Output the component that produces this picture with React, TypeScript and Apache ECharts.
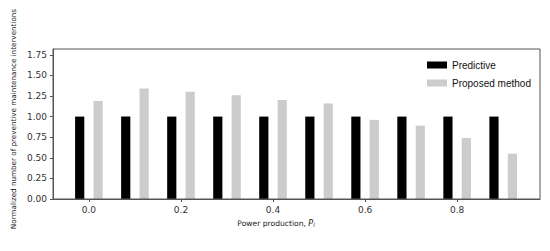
import React, { useEffect, useRef } from "react";
import * as echarts from "echarts";

const powerLevels = [0.0, 0.1, 0.2, 0.3, 0.4, 0.5, 0.6, 0.7, 0.8, 0.9];
const predictive = [1.0, 1.0, 1.0, 1.0, 1.0, 1.0, 1.0, 1.0, 1.0, 1.0];
const proposed = [1.19, 1.34, 1.3, 1.26, 1.2, 1.16, 0.96, 0.89, 0.74, 0.55];
const xTicks = [0.0, 0.2, 0.4, 0.6, 0.8];
const yTicks = [0, 0.25, 0.5, 0.75, 1.0, 1.25, 1.5, 1.75];

const BAR_OFFSET = 0.02;
const BAR_WIDTH = 0.02;

function makeRender() {
  return (params: any, api: any) => {
    const x = api.value(0);
    const y = api.value(1);
    const p1 = api.coord([x - BAR_WIDTH / 2, y]);
    const p2 = api.coord([x + BAR_WIDTH / 2, 0]);
    return {
      type: "rect",
      shape: { x: p1[0], y: p1[1], width: p2[0] - p1[0], height: p2[1] - p1[1] },
      style: { fill: api.visual("color") },
    };
  };
}

export default function App() {
  const ref = useRef<HTMLDivElement>(null);
  useEffect(() => {
    if (!ref.current) return;
    const chart = echarts.init(ref.current, undefined, { renderer: "svg" });
    const axisColor = "#555";
    const tickFont = { fontFamily: "DejaVu Sans", fontSize: 9, color: "#333" };
    chart.setOption({
      animation: false,
      grid: { left: 53, top: 49, right: 10, bottom: 52 },
      xAxis: {
        type: "value",
        min: -0.078,
        max: 0.98,
        splitLine: { show: false },
        axisLine: { show: true, onZero: false, lineStyle: { color: axisColor, width: 1 } },
        axisTick: { show: true, customValues: xTicks, length: 3, lineStyle: { color: axisColor } },
        axisLabel: {
          customValues: xTicks,
          formatter: (v: number) => v.toFixed(1),
          margin: 6,
          ...tickFont,
        },
      },
      yAxis: {
        type: "value",
        min: 0,
        max: 1.82,
        splitLine: { show: false },
        axisLine: { show: true, onZero: false, lineStyle: { color: axisColor, width: 1 } },
        axisTick: { show: true, customValues: yTicks, length: 3, lineStyle: { color: axisColor } },
        axisLabel: {
          customValues: yTicks,
          formatter: (v: number) => v.toFixed(2),
          margin: 6,
          ...tickFont,
        },
      },
      legend: {
        show: true,
        orient: "vertical",
        left: 422,
        top: 55,
        itemWidth: 20,
        itemHeight: 7,
        itemGap: 8,
        icon: "rect",
        textStyle: { fontFamily: "Liberation Sans", fontSize: 10, color: "#111" },
        data: [
          { name: "Predictive", icon: "rect" },
          { name: "Proposed method", icon: "rect" },
        ],
      },
      graphic: [
        {
          type: "rect",
          shape: { x: 53, y: 49, width: 487, height: 150 },
          style: { fill: "none", stroke: axisColor, lineWidth: 1 },
          silent: true,
          z: 10,
        },
        {
          type: "text",
          x: 13,
          y: 119,
          rotation: Math.PI / 2,
          style: {
            text: "Normalized number of preventive maintenance interventions",
            fontFamily: "DejaVu Sans",
            fontSize: 7.2,
            fill: "#222",
            align: "center",
            verticalAlign: "middle",
          },
        },
        {
          type: "text",
          x: 276,
          y: 223,
          style: {
            text: "Power production, {i|P}{s|l}",
            fontFamily: "DejaVu Sans",
            fontSize: 7.6,
            fill: "#222",
            align: "center",
            verticalAlign: "middle",
            rich: {
              i: { fontStyle: "italic", fontFamily: "DejaVu Sans", fontSize: 8, fill: "#222" },
              s: { fontStyle: "italic", fontFamily: "DejaVu Sans", fontSize: 5.5, fill: "#222", padding: [4, 0, 0, 0] },
            },
          },
        },
      ],
      series: [
        {
          name: "Predictive",
          type: "custom",
          itemStyle: { color: "#000000" },
          renderItem: makeRender(),
          encode: { x: 0, y: 1 },
          data: powerLevels.map((p, i) => [p - BAR_OFFSET, predictive[i]]),
        },
        {
          name: "Proposed method",
          type: "custom",
          itemStyle: { color: "#cccccc" },
          renderItem: makeRender(),
          encode: { x: 0, y: 1 },
          data: powerLevels.map((p, i) => [p + BAR_OFFSET, proposed[i]]),
        },
      ],
    });
    return () => chart.dispose();
  }, []);
  return (
    <div
      ref={ref}
      style={{ position: "absolute", left: 0, top: 0, width: 550, height: 251 }}
    />
  );
}
